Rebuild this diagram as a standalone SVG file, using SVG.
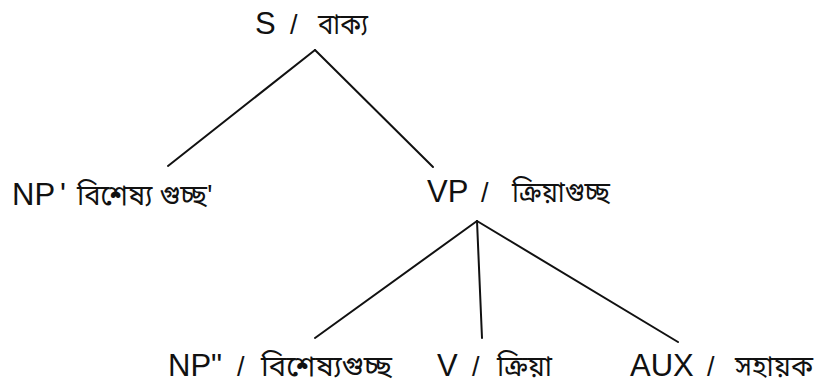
<svg xmlns="http://www.w3.org/2000/svg" width="819" height="387" viewBox="0 0 819 387">
<style>
.t{font-family:"Liberation Sans",Arial,sans-serif;font-size:31px;fill:#111}
.s{font-family:"Liberation Sans",Arial,sans-serif;font-size:27px;fill:#111}
.b{font-family:"Noto Sans Bengali","Lohit Bengali","Vrinda","FreeSans","Liberation Sans",sans-serif;font-size:28px;fill:#111;font-weight:normal}
.e{stroke:#111;stroke-width:2;fill:none;stroke-linecap:round}
</style>
<rect width="819" height="387" fill="#fff"/>
<g id="connectors">
<line class="e" x1="315" y1="50" x2="168" y2="166"/>
<line class="e" x1="315" y1="50" x2="433" y2="167"/>
<line class="e" x1="477" y1="221" x2="315" y2="338"/>
<line class="e" x1="477" y1="221" x2="482" y2="338"/>
<line class="e" x1="477" y1="221" x2="678" y2="342"/>
</g>
<g id="S"><text class="t" x="255" y="34">S</text><text class="s" x="290" y="34">/</text><text class="b" x="318" y="34" textLength="50" lengthAdjust="spacingAndGlyphs">বাক্য</text></g>
<g id="NP1"><text class="t" x="12" y="205">NP<tspan dx="5">'</tspan></text><text class="b" x="77" y="205" textLength="136" lengthAdjust="spacingAndGlyphs">বিশেষ্য গুচ্ছ'</text></g>
<g id="VP"><text class="t" x="427" y="202">VP</text><text class="s" x="481" y="202">/</text><text class="b" x="512" y="202" textLength="98" lengthAdjust="spacingAndGlyphs">ক্রিয়াগুচ্ছ</text></g>
<g id="NP2"><text class="t" x="168" y="376">NP"</text><text class="s" x="237" y="376">/</text><text class="b" x="261" y="376" textLength="131" lengthAdjust="spacingAndGlyphs">বিশেষ্যগুচ্ছ</text></g>
<g id="V"><text class="t" x="437" y="376">V</text><text class="s" x="472" y="376">/</text><text class="b" x="497" y="376" textLength="55" lengthAdjust="spacingAndGlyphs">ক্রিয়া</text></g>
<g id="AUX"><text class="t" x="630" y="376">AUX</text><text class="s" x="707" y="376">/</text><text class="b" x="735" y="376" textLength="78" lengthAdjust="spacingAndGlyphs">সহায়ক</text></g>
</svg>
